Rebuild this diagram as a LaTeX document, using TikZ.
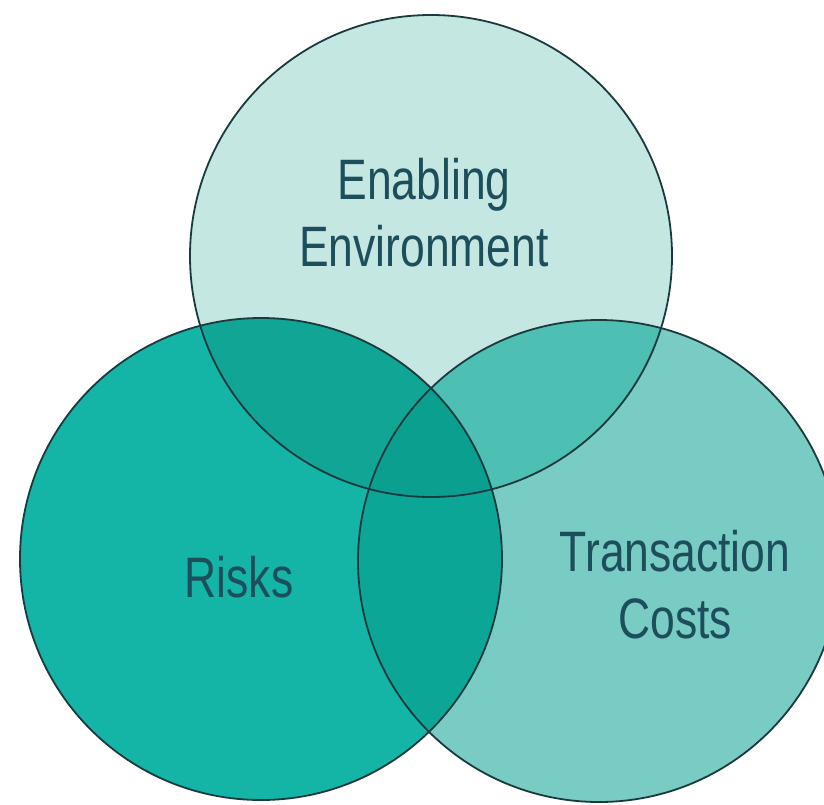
\documentclass[tikz,border=0pt]{standalone}
\usepackage{fontspec}
\setmainfont{Liberation Sans}[FakeStretch=0.78]
\definecolor{cT}{HTML}{C5E7E2}
\definecolor{cL}{HTML}{14B4A6}
\definecolor{cR}{HTML}{78CCC3}
\definecolor{cTL}{HTML}{10A595}
\definecolor{cTR}{HTML}{4DC0B3}
\definecolor{cLR}{HTML}{0CA696}
\definecolor{cC}{HTML}{0A9F8F}
\definecolor{edge}{HTML}{1B3A3E}
\definecolor{txt}{HTML}{1D4E5B}
\tikzset{
  lbl/.style={text=txt, align=center, inner sep=0pt, font=\fontsize{57}{67}\selectfont},
  rim/.style={draw=edge, line width=1.8pt}
}
\begin{document}
\begin{tikzpicture}[x=1pt,y=-1pt]
\useasboundingbox (0,0) rectangle (824,804);
\coordinate (T) at (431,256);
\coordinate (L) at (261,559);
\coordinate (R) at (599,561);
\fill[cT] (T) circle[radius=241pt];
\fill[cL] (L) circle[radius=241pt];
\fill[cR] (R) circle[radius=241pt];
\begin{scope}
  \clip (T) circle[radius=241pt];
  \fill[cTL] (L) circle[radius=241pt];
  \fill[cTR] (R) circle[radius=241pt];
\end{scope}
\begin{scope}
  \clip (L) circle[radius=241pt];
  \fill[cLR] (R) circle[radius=241pt];
  \clip (R) circle[radius=241pt];
  \fill[cC] (T) circle[radius=241pt];
\end{scope}
\draw[rim] (T) circle[radius=241pt];
\draw[rim] (L) circle[radius=241pt];
\draw[rim] (R) circle[radius=241pt];
\node[lbl] (env) at (424,213) {Enabling\\Environment};
\node[lbl] (risk) at (239,577) {Risks};
\node[lbl] (cost) at (675,585) {Transaction\\Costs};
\end{tikzpicture}
\end{document}
